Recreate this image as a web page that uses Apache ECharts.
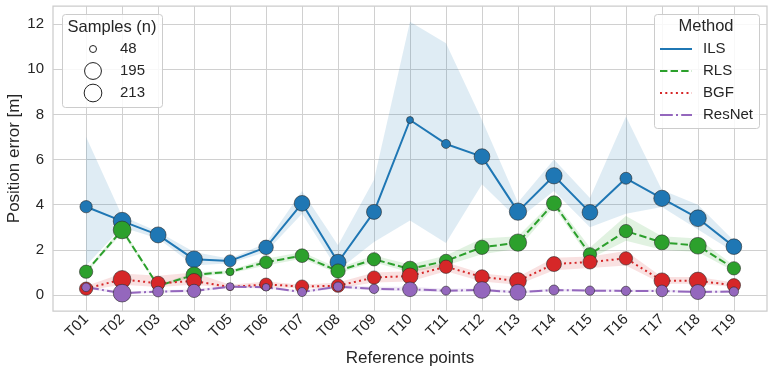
<!DOCTYPE html>
<html>
<head>
<meta charset="utf-8">
<script src="https://cdn.jsdelivr.net/npm/echarts@6/dist/echarts.min.js"></script>
<style>
  html, body { margin: 0; padding: 0; background: #fff; }
  #chart { width: 773px; height: 375px; }
</style>
</head>
<body>
<div id="chart"></div>
<script>
// reference points
const points = ['T01', 'T02', 'T03', 'T04', 'T05', 'T06', 'T07', 'T08', 'T09', 'T10',
  'T11', 'T12', 'T13', 'T14', 'T15', 'T16', 'T17', 'T18', 'T19']
const yTicks = [0, 2, 4, 6, 8, 10, 12]
const sizeLegend = [48, 195, 213]

// mean position error per method [m]
const ilsMean = [3.91, 3.27, 2.66, 1.58, 1.51, 2.11, 4.06, 1.45, 3.68, 7.75, 6.69, 6.13, 3.69, 5.28, 3.66, 5.17, 4.28, 3.40, 2.14]
const rlsMean = [1.03, 2.88, 0.40, 0.89, 1.03, 1.45, 1.74, 1.06, 1.58, 1.15, 1.51, 2.11, 2.32, 4.06, 1.80, 2.83, 2.33, 2.18, 1.18]
const bgfMean = [0.28, 0.69, 0.52, 0.62, 0.35, 0.47, 0.37, 0.41, 0.77, 0.84, 1.25, 0.80, 0.62, 1.37, 1.46, 1.62, 0.63, 0.63, 0.43]
const resMean = [0.34, 0.08, 0.15, 0.18, 0.37, 0.34, 0.13, 0.37, 0.27, 0.25, 0.19, 0.22, 0.12, 0.22, 0.19, 0.18, 0.18, 0.13, 0.15]

// confidence band (low / high)
const ilsLow = [1.30, 3.00, 2.50, 1.30, 1.40, 1.90, 3.60, 1.10, 2.35, 3.30, 2.30, 4.90, 3.35, 4.60, 3.00, 3.60, 3.90, 2.90, 1.90]
const ilsHigh = [7.00, 3.50, 2.80, 1.90, 1.60, 2.30, 4.60, 2.20, 5.10, 12.10, 11.15, 7.75, 4.10, 6.00, 4.30, 7.90, 4.65, 4.00, 2.40]
const rlsLow = [0.95, 2.75, 0.35, 0.80, 0.95, 1.30, 1.60, 0.95, 1.45, 1.00, 1.30, 1.80, 2.05, 3.90, 1.60, 2.40, 2.00, 1.90, 1.05]
const rlsHigh = [1.10, 3.00, 0.45, 1.00, 1.10, 1.60, 1.90, 1.20, 1.75, 1.35, 1.75, 2.50, 2.60, 4.20, 2.10, 3.50, 2.60, 2.50, 1.30]
const bgfLow = [0.20, 0.45, 0.35, 0.45, 0.30, 0.35, 0.30, 0.30, 0.55, 0.60, 1.05, 0.60, 0.45, 1.10, 1.20, 1.30, 0.50, 0.50, 0.35]
const bgfHigh = [0.40, 0.95, 0.85, 1.00, 0.45, 0.60, 0.45, 0.55, 1.00, 1.05, 1.45, 0.95, 0.80, 1.65, 1.70, 1.95, 0.80, 0.80, 0.55]
const resLow = [0.28, 0.03, 0.10, 0.12, 0.32, 0.29, 0.08, 0.30, 0.20, 0.16, 0.12, 0.15, 0.06, 0.17, 0.14, 0.13, 0.13, 0.08, 0.10]
const resHigh = [0.40, 0.14, 0.21, 0.25, 0.43, 0.40, 0.19, 0.45, 0.36, 0.36, 0.28, 0.30, 0.19, 0.28, 0.25, 0.24, 0.24, 0.19, 0.21]

// samples (n) per point
const ilsN = [112, 213, 177, 192, 107, 149, 171, 177, 158, 48, 68, 171, 204, 183, 171, 107, 183, 192, 171]
const rlsN = [128, 213, 93, 177, 57, 118, 135, 145, 128, 171, 128, 145, 204, 158, 128, 128, 158, 192, 128]
const bgfN = [128, 213, 140, 158, 48, 118, 128, 128, 128, 177, 128, 145, 192, 158, 140, 128, 171, 204, 128]
const resN = [65, 213, 89, 128, 57, 54, 68, 72, 72, 152, 68, 192, 177, 80, 72, 72, 103, 158, 72]

const methods = [
  { name: 'ILS', mean: ilsMean, low: ilsLow, high: ilsHigh, n: ilsN, color: '#1f77b4', dash: 'solid' },
  { name: 'RLS', mean: rlsMean, low: rlsLow, high: rlsHigh, n: rlsN, color: '#2ca02c', dash: [7.4, 3.2] },
  { name: 'BGF', mean: bgfMean, low: bgfLow, high: bgfHigh, n: bgfN, color: '#d62728', dash: [2, 3.3] },
  { name: 'ResNet', mean: resMean, low: resLow, high: resHigh, n: resN, color: '#9467bd', dash: [12.8, 3.2, 2, 3.2] }
]

const FONT = '"Liberation Sans", Arial, sans-serif'
const TXT = '#262626'
const GRID = '#d0d0d0'

function sizeOf(n) {
  return Math.sqrt(1.6 * n - 27.8)
}

function hexA(hex, a) {
  const v = parseInt(hex.slice(1), 16)
  return 'rgba(' + (v >> 16) + ',' + ((v >> 8) & 255) + ',' + (v & 255) + ',' + a + ')'
}

const series = []
methods.forEach(function(m) {
  const rows = m.low.map(function(lo, i) { return [i, lo, m.high[i]] })
  series.push({
    name: m.name + ' band',
    type: 'custom',
    silent: true,
    z: 1,
    data: rows,
    encode: { x: 0, y: [1, 2] },
    renderItem: function(params, api) {
      if (params.dataIndex !== 0) return null
      const pts = []
      rows.forEach(function(r) { pts.push(api.coord([r[0], r[2]])) })
      for (let i = rows.length - 1; i >= 0; i--) pts.push(api.coord([rows[i][0], rows[i][1]]))
      return {
        type: 'polygon',
        shape: { points: pts },
        style: { fill: hexA(m.color, 0.14) }
      }
    }
  })
})
methods.forEach(function(m) {
  series.push({
    name: m.name,
    type: 'line',
    z: 2,
    showSymbol: false,
    symbol: 'none',
    data: m.mean.map(function(v, i) { return [i, v] }),
    lineStyle: { color: m.color, width: 2, type: m.dash },
    itemStyle: { color: m.color }
  })
})
methods.forEach(function(m, k) {
  series.push({
    name: m.name,
    type: 'scatter',
    z: 3 + k,
    data: m.mean.map(function(v, i) { return [i, v, m.n[i]] }),
    symbolSize: function(val) { return sizeOf(val[2]) },
    itemStyle: { color: m.color, borderColor: '#2a2a2a', borderWidth: 0.6, opacity: 1 }
  })
})

// legends drawn as boxes like the original figure
const graphic = []
graphic.push({
  type: 'rect', left: 62, top: 14, z: 50,
  shape: { width: 100, height: 93, r: 3 },
  style: { fill: 'rgba(255,255,255,0.85)', stroke: '#cccccc', lineWidth: 1 }
})
graphic.push({
  type: 'text', x: 112, y: 27, z: 51,
  style: { text: 'Samples (n)', font: '16.5px ' + FONT, fill: TXT, align: 'center', verticalAlign: 'middle' }
})
sizeLegend.forEach(function(n, i) {
  const cy = 49 + i * 22
  graphic.push({
    type: 'circle', z: 51,
    shape: { cx: 93, cy: cy, r: sizeOf(n) / 2 },
    style: { fill: '#ffffff', stroke: '#222222', lineWidth: 1 }
  })
  graphic.push({
    type: 'text', x: 120, y: cy, z: 51,
    style: { text: String(n), font: '15px ' + FONT, fill: TXT, align: 'left', verticalAlign: 'middle' }
  })
})
graphic.push({
  type: 'rect', left: 654, top: 14, z: 50,
  shape: { width: 105, height: 114, r: 3 },
  style: { fill: 'rgba(255,255,255,0.85)', stroke: '#cccccc', lineWidth: 1 }
})
graphic.push({
  type: 'text', x: 706, y: 26, z: 51,
  style: { text: 'Method', font: '16.5px ' + FONT, fill: TXT, align: 'center', verticalAlign: 'middle' }
})
methods.forEach(function(m, i) {
  const cy = 49 + i * 22
  graphic.push({
    type: 'line', z: 51,
    shape: { x1: 660, y1: cy, x2: 692, y2: cy },
    style: { stroke: m.color, lineWidth: 2, lineDash: m.dash === 'solid' ? null : m.dash }
  })
  graphic.push({
    type: 'text', x: 703, y: cy, z: 51,
    style: { text: m.name, font: '15px ' + FONT, fill: TXT, align: 'left', verticalAlign: 'middle' }
  })
})

const chart = echarts.init(document.getElementById('chart'), null, { renderer: 'canvas' })
chart.setOption({
  animation: false,
  backgroundColor: '#ffffff',
  textStyle: { fontFamily: FONT },
  grid: {
    left: 53, right: 6, top: 6, bottom: 64,
    containLabel: false,
    outerBoundsMode: 'none',
    show: true, borderColor: '#cccccc', borderWidth: 1.25, backgroundColor: 'transparent'
  },
  xAxis: {
    type: 'value',
    min: -0.92,
    max: 18.92,
    name: 'Reference points',
    nameLocation: 'middle',
    nameGap: 39,
    nameMoveOverlap: false,
    nameTextStyle: { fontSize: 17, color: TXT, fontFamily: FONT },
    axisLine: { show: false },
    axisTick: { show: false, customValues: points.map(function(p, i) { return i }) },
    axisLabel: {
      customValues: points.map(function(p, i) { return i }),
      formatter: function(v) { return points[Math.round(v)] },
      rotate: 45,
      margin: 6,
      fontSize: 15,
      color: TXT,
      fontFamily: FONT
    },
    splitLine: { show: true, lineStyle: { color: GRID, width: 1 } }
  },
  yAxis: {
    type: 'value',
    min: -0.71,
    max: 12.8,
    name: 'Position error [m]',
    nameLocation: 'middle',
    nameGap: 30,
    nameMoveOverlap: false,
    nameTextStyle: { fontSize: 17, color: TXT, fontFamily: FONT },
    axisLine: { show: false },
    axisTick: { show: false, customValues: yTicks },
    axisLabel: {
      customValues: yTicks,
      margin: 9,
      fontSize: 15,
      color: TXT,
      fontFamily: FONT
    },
    splitLine: { show: true, lineStyle: { color: GRID, width: 1 } }
  },
  graphic: graphic,
  series: series
})
</script>
</body>
</html>
